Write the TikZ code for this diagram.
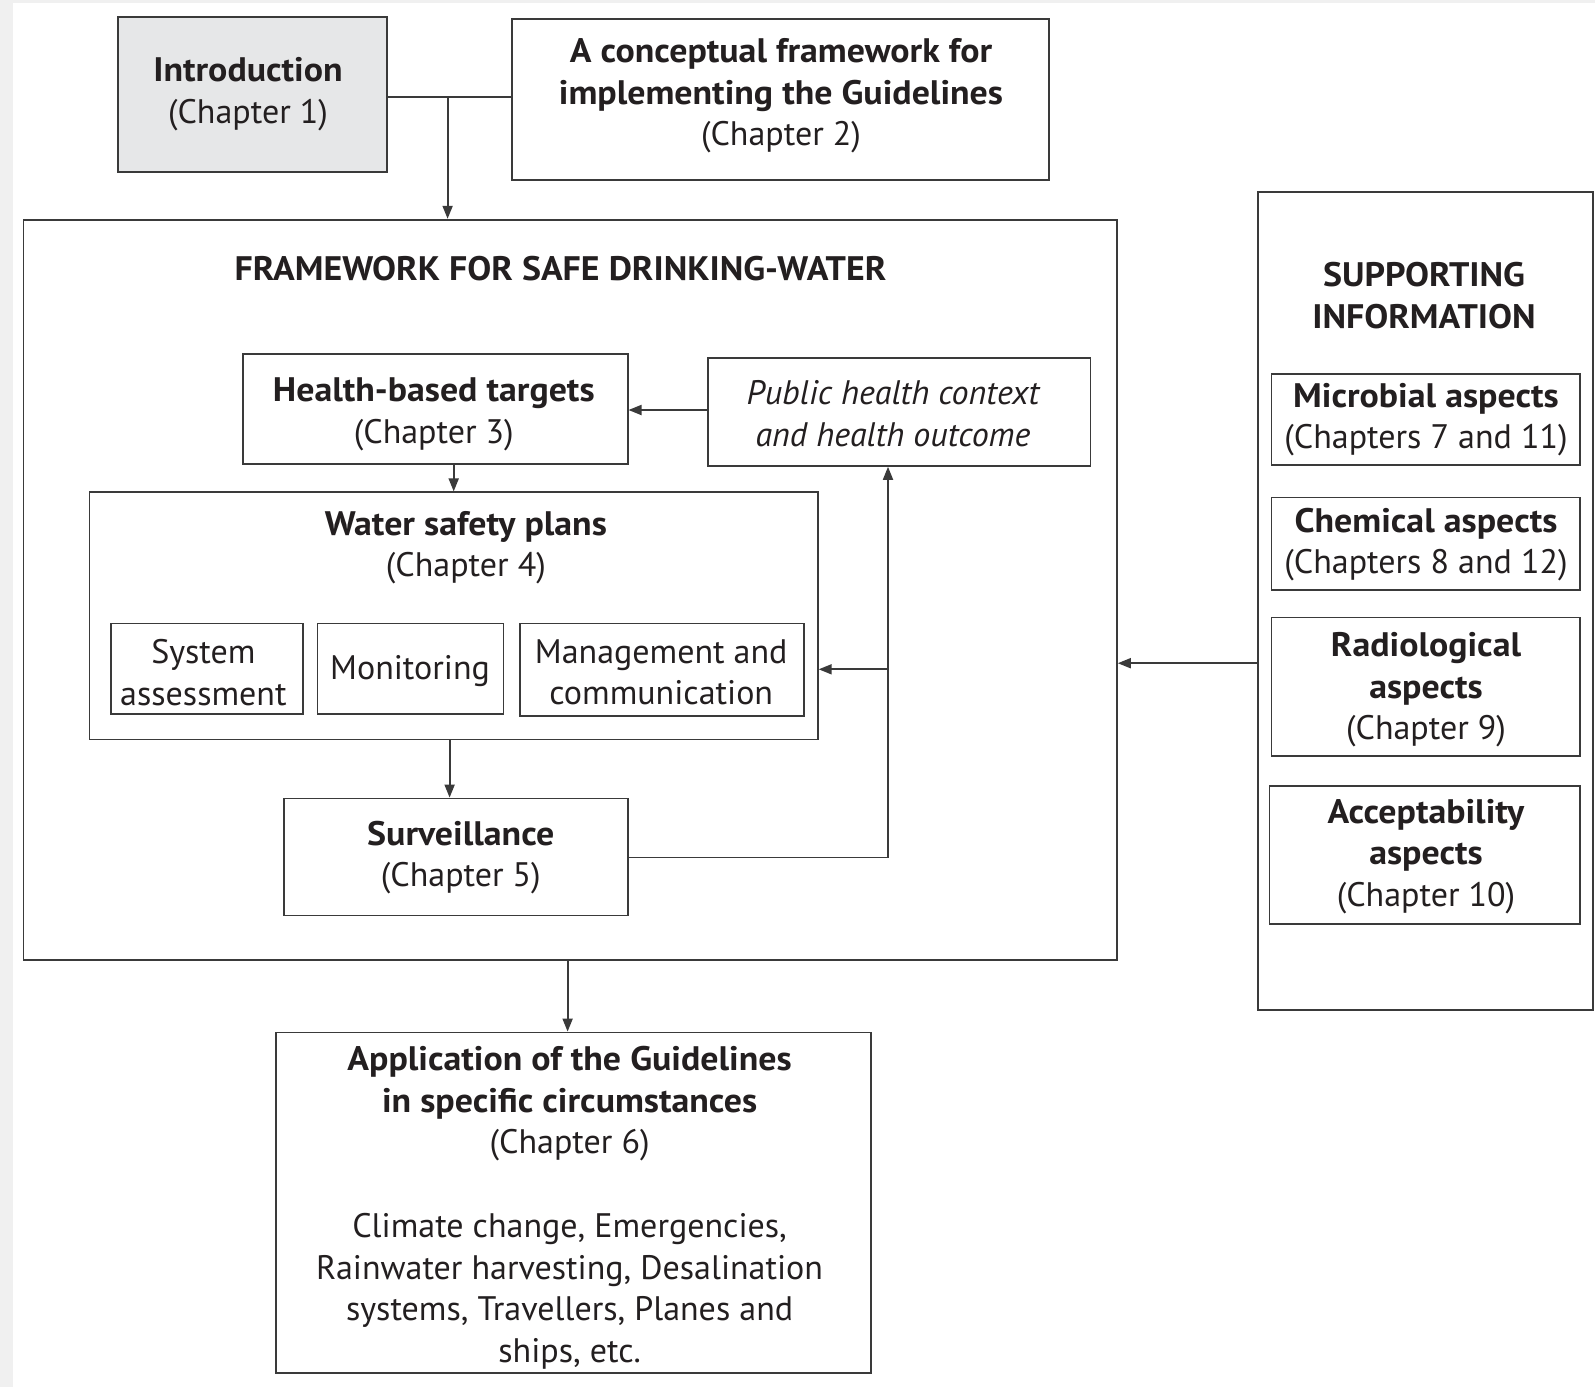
\documentclass[tikz,border=0pt]{standalone}
\usepackage{fontspec}
\setmainfont{PT Sans}[BoldFeatures={FakeStretch=1.055}]
\usetikzlibrary{arrows.meta,fit}
\definecolor{ln}{HTML}{3A3A3A}
\definecolor{tx}{HTML}{231F20}
\definecolor{bgg}{HTML}{F0F0F0}
\definecolor{introfill}{HTML}{E6E7E8}
\tikzset{
  box/.style={draw=ln, line width=1.8pt, inner sep=0pt},
  lbl/.style={text=tx, align=center, inner sep=0pt, yshift=-3pt, font=\fontsize{34}{41.5}\selectfont},
  conn/.style={draw=ln, line width=1.8pt},
  arr/.style={conn, -{Triangle[length=13pt,width=10pt]}},
}
\begin{document}
\begin{tikzpicture}[x=1pt,y=-1pt]
\path[use as bounding box] (0,0) rectangle (1595,1387);
\fill[bgg] (0,0) rectangle (1595,1387);
\fill[white] (13,3) rectangle (1595,1387);

% boxes
\node[box, fill=introfill, fit={(118,17) (387,172)}] (intro) {};
\node[box, fit={(512,19) (1049,180)}] (concept) {};
\node[box, fit={(23.4,219.7) (1116.9,960.2)}] (fw) {};
\node[box, fit={(243.1,354) (627.6,463.8)}] (hbt) {};
\node[box, fit={(708,358) (1090.4,465.9)}] (pub) {};
\node[box, fit={(89.5,492.3) (817.8,739.5)}] (wsp) {};
\node[box, fit={(110.9,623.5) (303.1,714.1)}] (sa) {};
\node[box, fit={(317.4,623.5) (503.5,714.1)}] (mon) {};
\node[box, fit={(519.8,623.5) (803.6,716.1)}] (mgmt) {};
\node[box, fit={(283.8,798.5) (627.6,915.5)}] (surv) {};
\node[box, fit={(275.7,1032.5) (870.7,1373.2)}] (app) {};
\node[box, fit={(1258.3,192.3) (1593,1010)}] (sup) {};
\node[box, fit={(1271.5,374.3) (1579.7,464.9)}] (mic) {};
\node[box, fit={(1271.5,497.4) (1579.7,590)}] (chem) {};
\node[box, fit={(1271.5,617.4) (1579.7,755.8)}] (rad) {};
\node[box, fit={(1269.5,786.3) (1579.7,923.6)}] (acc) {};

% texts
\node[lbl] (introT) at (248,91) {\textbf{Introduction}\\(Chapter 1)};
\node[lbl] (conceptT) at (781,93) {\textbf{A conceptual framework for}\\\textbf{implementing the Guidelines}\\(Chapter 2)};
\node[lbl] (fwT) at (560.5,265.5) {\textbf{FRAMEWORK FOR SAFE DRINKING-WATER}};
\node[lbl] (hbtT) at (433.8,411.5) {\textbf{Health-based targets}\\(Chapter 3)};
\node[lbl] (pubT) at (893,410.5) {\itshape Public health context\\\itshape and health outcome};
\node[lbl] (wspT) at (465.9,544.8) {\textbf{Water safety plans}\\(Chapter 4)};
\node[lbl] (saT) at (203.4,669.4) {System\\assessment};
\node[lbl] (monT) at (410,668.3) {Monitoring};
\node[lbl] (mgmtT) at (661.2,669.4) {Management and\\communication};
\node[lbl] (survT) at (460.8,854.4) {\textbf{Surveillance}\\(Chapter 5)};
\node[lbl] (supT) at (1424,292.5) {\textbf{SUPPORTING}\\\textbf{INFORMATION}};
\node[lbl] (micT) at (1426,416.5) {\textbf{Microbial aspects}\\(Chapters 7 and 11)};
\node[lbl] (chemT) at (1426,541.6) {\textbf{Chemical aspects}\\(Chapters 8 and 12)};
\node[lbl] (radT) at (1426,687.1) {\textbf{Radiological}\\\textbf{aspects}\\(Chapter 9)};
\node[lbl] (accT) at (1426,853.4) {\textbf{Acceptability}\\\textbf{aspects}\\(Chapter 10)};
\node[lbl] (appT1) at (569.6,1101) {\textbf{Application of the Guidelines}\\\textbf{in specific circumstances}\\(Chapter 6)};
\node[lbl] (appT2) at (569.6,1288.2) {Climate change, Emergencies,\\Rainwater harvesting, Desalination\\systems, Travellers, Planes and\\ships, etc.};

% connectors
\coordinate (j1) at (447.6,96.6);
\draw[conn] (intro.east |- j1) -- (concept.west |- j1);
\draw[arr] (j1) -- (j1 |- fw.north);

\coordinate (y1) at (0,410);
\draw[arr] (pub.west |- y1) -- (hbt.east |- y1);

\coordinate (x1) at (453.7,0);
\draw[arr] (x1 |- hbt.south) -- (x1 |- wsp.north);

\coordinate (x2) at (449.6,0);
\draw[arr] (x2 |- wsp.south) -- (x2 |- surv.north);

\coordinate (c1) at (888,857.5);
\coordinate (c2) at (888,669.3);
\draw[conn] (surv.east |- c1) -- (c1) -- (c2);
\draw[arr] (c2) -- (c2 |- pub.south);
\draw[arr] (c2) -- (wsp.east |- c2);

\coordinate (x3) at (567.6,0);
\draw[arr] (x3 |- fw.south) -- (x3 |- app.north);

\coordinate (y2) at (0,663.2);
\draw[arr] (sup.west |- y2) -- (fw.east |- y2);
\end{tikzpicture}
\end{document}
